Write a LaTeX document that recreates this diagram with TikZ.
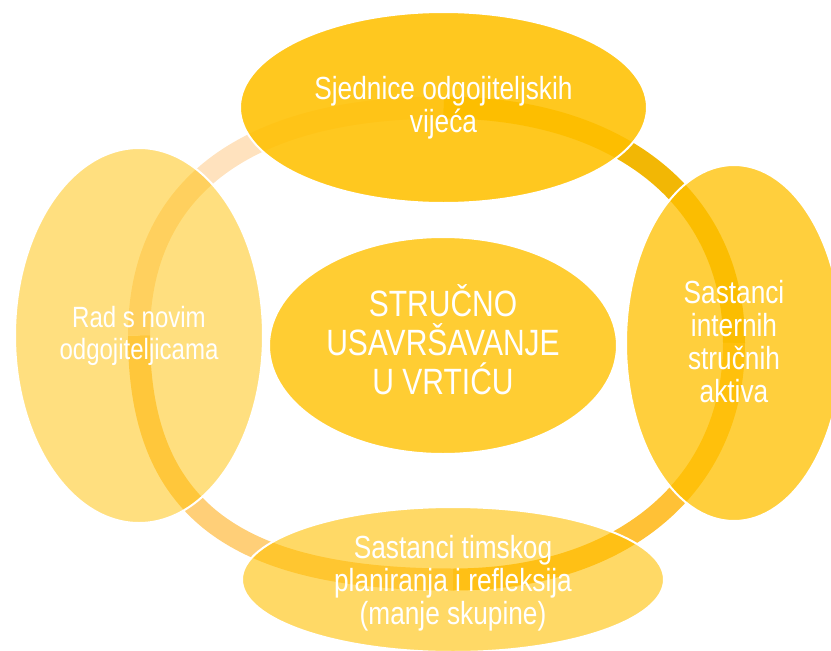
\documentclass[tikz,border=0pt]{standalone}
\usepackage{fontspec}
\setmainfont{Liberation Sans}[FakeStretch=0.82]
\usetikzlibrary{shapes.geometric,backgrounds}

\definecolor{zlato}{HTML}{FFC000}
\definecolor{lukgl}{HTML}{FFE2BE}
\definecolor{lukgd}{HTML}{F2B705}
\definecolor{lukdd}{HTML}{FFC136}
\definecolor{lukdl}{HTML}{FFCF78}

\begin{document}
\begin{tikzpicture}[x=1pt,y=-1pt,
	krug/.style={ellipse,draw=white,line width=2pt,fill=zlato,text=white,
		text opacity=1,inner sep=0pt,align=center},
	vanjski/.style={font=\fontsize{32}{33}\selectfont},
	luk/.style={line width=22pt}]
	
	\useasboundingbox (0,0) rectangle (831,651);
	
	\node[krug,vanjski,fill opacity=0.88,minimum width=407pt,minimum height=191pt]
	(sj) at (443.5,107.5) {Sjednice odgojiteljskih\\vijeća};
	\node[krug,vanjski,fill opacity=0.76,minimum width=216pt,minimum height=356pt,
	text depth=4pt] (sa) at (734,343) {Sastanci\\internih\\stručnih\\aktiva};
	\node[krug,vanjski,fill opacity=0.6,minimum width=422pt,minimum height=145pt,
	text depth=0pt] (ti) at (453,579.5)
	{Sastanci timskog\\planiranja i refleksija\\(manje skupine)};
	\node[krug,fill opacity=0.5,minimum width=248pt,minimum height=375pt,
	font=\fontsize{29.3}{32}\selectfont] (rad) at (139,335.5)
	{Rad s novim\\odgojiteljicama};
	
	\node[krug,fill opacity=0.8,minimum width=348pt,minimum height=217pt,
	font=\fontsize{36.6}{39}\selectfont,text depth=12.5pt] (su) at (443,345.5)
	{STRUČNO\\USAVRŠAVANJE\\U VRTIĆU};
	
	\begin{pgfonlayer}{background}
		\draw[luk,lukgl](rad.center) .. controls +(0,-147.7) and +(-197.3,0) .. (sj.center);
		\draw[luk,lukgd](sj.center) .. controls +(176.9,0) and +(0,-143.4) .. (sa.center);
		\draw[luk,lukdd](sa.center) .. controls +(0,142.6) and +(169.4,0) .. (ti.center);
		\draw[luk,lukdl](ti.center) .. controls +(-221.1,0) and +(0,171.8) .. (rad.center);
	\end{pgfonlayer}
	
\end{tikzpicture}
\end{document}
